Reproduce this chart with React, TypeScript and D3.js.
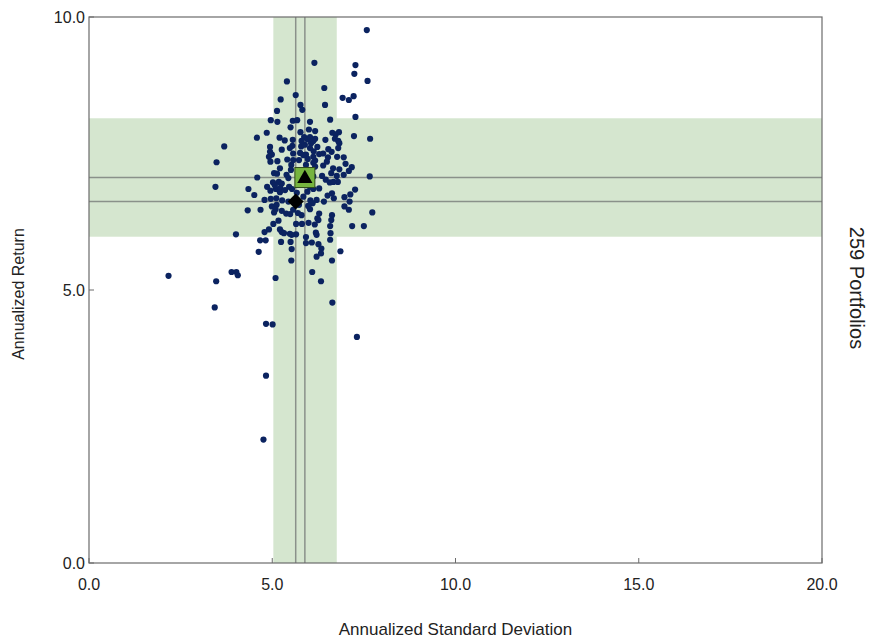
import React from "react";
import * as d3 from "d3";

// Portfolio risk / return pairs (annualized std dev, annualized return)
const stdDev: number[] = [
  7.58, 6.15, 7.27, 7.24, 7.60, 5.40, 6.42, 5.64, 6.92, 7.09, 7.22, 5.23, 5.77, 5.82, 6.44, 5.13, 7.27, 4.96, 5.14, 5.56,
  5.68, 6.03, 6.58, 5.50, 5.77, 6.00, 6.17, 6.64, 6.73, 6.82, 7.23, 7.67, 4.85, 4.58, 5.20, 5.34, 5.56, 5.87, 5.96, 6.03,
  6.17, 6.45, 6.71, 6.80, 3.69, 4.94, 5.55, 5.79, 5.89, 6.06, 6.23, 6.83, 6.80, 5.26, 4.94, 4.99, 5.57, 5.76, 5.92, 6.13,
  6.28, 6.53, 6.62, 6.77, 6.95, 4.91, 3.48, 4.95, 5.14, 5.41, 5.73, 5.97, 6.17, 6.52, 5.80, 6.12, 5.48, 6.03, 6.39, 5.85,
  6.12, 5.57, 6.12, 7.00, 5.21, 5.52, 5.92, 6.17, 6.39, 6.66, 6.83, 7.17, 7.09, 6.95, 5.05, 5.39, 4.59, 3.45, 4.86, 5.02,
  5.18, 5.26, 5.44, 6.36, 6.61, 6.76, 6.79, 7.66, 6.46, 6.57, 6.28, 4.35, 4.51, 4.95, 5.10, 5.22, 5.46, 5.96, 7.26, 6.63,
  6.68, 6.51, 6.97, 7.13, 4.79, 4.96, 5.11, 5.27, 6.49, 6.12, 6.67, 6.03, 6.12, 5.85, 6.21, 5.13, 5.07, 5.21, 5.35, 5.44,
  5.12, 6.04, 6.10, 6.41, 7.11, 4.33, 4.68, 4.99, 5.09, 5.26, 5.38, 5.49, 5.70, 5.98, 6.03, 6.28, 6.23, 6.63, 6.61, 6.97,
  7.09, 7.73, 5.17, 5.03, 5.65, 5.81, 5.99, 6.16, 6.58, 7.18, 7.50, 4.01, 4.79, 4.91, 5.21, 5.26, 5.48, 5.65, 5.92, 6.19,
  6.59, 5.57, 5.80, 5.05, 5.32, 4.67, 4.82, 5.24, 4.63, 5.50, 5.53, 5.52, 5.53, 5.92, 6.08, 6.21, 6.26, 6.34, 6.33, 6.21,
  6.58, 6.86, 6.63, 6.09, 6.33, 6.64, 7.31, 6.26, 3.89, 4.02, 4.06, 3.47, 3.43, 2.17, 5.09, 4.83, 5.01, 4.83, 4.76, 5.51,
  5.54, 5.67, 5.73,
];
const annReturn: number[] = [
  9.76, 9.16, 9.12, 8.96, 8.83, 8.82, 8.70, 8.57, 8.52, 8.48, 8.55, 8.49, 8.39, 8.30, 8.39, 8.28, 8.17, 8.11, 8.08, 8.10,
  8.11, 8.08, 8.12, 7.98, 7.89, 7.94, 7.91, 7.88, 7.85, 7.89, 7.82, 7.77, 7.88, 7.79, 7.79, 7.74, 7.75, 7.80, 7.76, 7.80,
  7.77, 7.75, 7.77, 7.73, 7.63, 7.62, 7.64, 7.63, 7.66, 7.69, 7.62, 7.69, 7.60, 7.57, 7.53, 7.48, 7.50, 7.51, 7.48, 7.54,
  7.49, 7.58, 7.53, 7.44, 7.43, 7.44, 7.34, 7.35, 7.36, 7.39, 7.38, 7.40, 7.37, 7.43, 7.73, 7.73, 7.60, 7.60, 7.50, 7.47,
  7.44, 7.38, 7.33, 7.31, 7.23, 7.29, 7.29, 7.26, 7.28, 7.23, 7.21, 7.25, 7.18, 7.11, 7.14, 7.11, 7.06, 6.89, 6.89, 6.97,
  6.98, 6.95, 7.05, 7.09, 7.14, 7.09, 6.98, 7.08, 7.02, 6.97, 6.86, 6.85, 6.74, 6.82, 6.85, 6.87, 6.89, 6.80, 6.84, 6.77,
  6.68, 6.73, 6.70, 6.75, 6.65, 6.67, 6.68, 6.64, 7.35, 7.08, 6.98, 6.89, 6.85, 6.71, 6.65, 7.13, 6.92, 6.79, 6.83, 6.62,
  6.56, 6.64, 6.59, 6.62, 6.62, 6.46, 6.47, 6.53, 6.48, 6.45, 6.40, 6.39, 6.41, 6.54, 6.48, 6.40, 6.31, 6.37, 6.28, 6.53,
  6.47, 6.42, 6.27, 6.21, 6.21, 6.21, 6.23, 6.20, 6.17, 6.17, 6.17, 6.02, 6.06, 6.11, 6.11, 6.06, 6.03, 6.02, 5.97, 6.05,
  6.04, 6.47, 6.37, 6.42, 6.04, 5.91, 5.91, 5.88, 5.70, 5.88, 5.75, 5.54, 6.01, 5.86, 5.87, 6.01, 5.84, 5.76, 5.67, 5.61,
  5.92, 5.71, 5.54, 5.33, 5.16, 4.77, 4.14, 6.28, 5.33, 5.33, 5.27, 5.16, 4.68, 5.26, 5.22, 4.38, 4.37, 3.43, 2.26, 7.20,
  6.85, 6.78, 6.56,
];

// Reference markers
const benchmark = { x: 5.89, y: 7.06 };
const peerMedian = { x: 5.64, y: 6.62 };
// Shaded ranges
const stdDevBand: [number, number] = [5.03, 6.76];
const returnBand: [number, number] = [5.976, 8.145];

const xTicks = [0, 5, 10, 15, 20];
const yTicks = [0, 5, 10];
const portfolioCount = "259 Portfolios";

const W = 869;
const H = 641;
const M = { left: 89, right: 822, top: 17, bottom: 563 };

export default function App() {
  const x = d3.scaleLinear().domain([0, 20]).range([M.left, M.right]);
  const y = d3.scaleLinear().domain([0, 10]).range([M.bottom, M.top]);
  const font = "'Liberation Sans', Arial, sans-serif";
  const tri = d3.symbol().type(d3.symbolTriangle).size(100)();
  const diamondPath = (cx: number, cy: number, r: number) =>
    `M${cx},${cy - r}L${cx + r},${cy}L${cx},${cy + r}L${cx - r},${cy}Z`;
  const bx = x(benchmark.x);
  const by = y(benchmark.y);
  const px = x(peerMedian.x);
  const py = y(peerMedian.y);
  const lineColor = "#8a918a";
  return (
    <svg
      width={W}
      height={H}
      style={{ position: "absolute", left: 0, top: 0, background: "#fff" }}
      fontFamily={font}
    >
      <defs>
        <clipPath id="plot">
          <rect x={M.left} y={M.top} width={M.right - M.left} height={M.bottom - M.top} />
        </clipPath>
      </defs>
      <g clipPath="url(#plot)">
        <rect
          x={x(stdDevBand[0])}
          y={M.top}
          width={x(stdDevBand[1]) - x(stdDevBand[0])}
          height={M.bottom - M.top}
          fill="#d5e6cf"
        />
        <rect
          x={M.left}
          y={y(returnBand[1])}
          width={M.right - M.left}
          height={y(returnBand[0]) - y(returnBand[1])}
          fill="#d5e6cf"
        />
        {[bx, px].map((v, i) => (
          <line key={"v" + i} x1={v} x2={v} y1={M.top} y2={M.bottom} stroke={lineColor} strokeWidth={1.5} />
        ))}
        {[by, py].map((v, i) => (
          <line key={"h" + i} x1={M.left} x2={M.right} y1={v} y2={v} stroke={lineColor} strokeWidth={1.5} />
        ))}
        {stdDev.map((s, i) => (
          <circle key={i} cx={x(s)} cy={y(annReturn[i])} r={3.1} fill="#0b2360" />
        ))}
        <rect x={bx - 10} y={by - 10} width={20} height={20} fill="#76b43f" stroke="#2f4a1c" strokeWidth={1} />
        <path d={tri} transform={`translate(${bx},${by + 1})`} fill="#000" />
        <path d={diamondPath(px, py, 8)} fill="#000" />
      </g>
      <rect
        x={M.left}
        y={M.top}
        width={M.right - M.left}
        height={M.bottom - M.top}
        fill="none"
        stroke="#6b6b6b"
        strokeWidth={1.2}
      />
      {xTicks.map((t) => (
        <g key={"xt" + t}>
          <line x1={x(t)} x2={x(t)} y1={M.bottom} y2={M.bottom - 5} stroke="#6b6b6b" />
          <text x={x(t)} y={M.bottom + 27} textAnchor="middle" fontSize={16} fill="#222">
            {t.toFixed(1)}
          </text>
        </g>
      ))}
      {yTicks.map((t) => (
        <g key={"yt" + t}>
          <line x1={M.left} x2={M.left + 5} y1={y(t)} y2={y(t)} stroke="#6b6b6b" />
          <text x={M.left - 4} y={y(t) + 6} textAnchor="end" fontSize={16} fill="#222">
            {t.toFixed(1)}
          </text>
        </g>
      ))}
      <text x={(M.left + M.right) / 2} y={635} textAnchor="middle" fontSize={17} fill="#222">
        Annualized Standard Deviation
      </text>
      <text
        transform={`translate(24, ${(M.top + M.bottom) / 2 + 4}) rotate(-90)`}
        textAnchor="middle"
        fontSize={16}
        fill="#222"
      >
        Annualized Return
      </text>
      <text
        transform={`translate(850, ${(M.top + M.bottom) / 2 - 2}) rotate(90)`}
        textAnchor="middle"
        fontSize={20}
        fill="#222"
      >
        {portfolioCount}
      </text>
    </svg>
  );
}
